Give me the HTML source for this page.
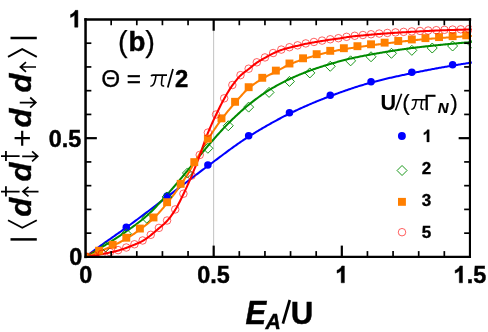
<!DOCTYPE html>
<html>
<head>
<meta charset="utf-8">
<title>chart</title>
<style>
html,body{margin:0;padding:0;background:#fff;}
body{width:488px;height:332px;overflow:hidden;font-family:"Liberation Sans",sans-serif;}
svg{display:block;will-change:transform;}
text{font-family:"Liberation Sans",sans-serif;fill:#000;}
.b{font-weight:bold;stroke:#000;stroke-width:0.45px;}
.n{font-weight:normal;stroke:none;}
.i{font-style:italic;}
.ser{font-family:"Liberation Serif",serif;font-style:italic;}
</style>
</head>
<body>
<svg width="488" height="332" viewBox="0 0 488 332">
<rect x="0" y="0" width="488" height="332" fill="#fff"/>
<defs><clipPath id="cp"><rect x="85.5" y="18" width="386.3" height="240"/></clipPath></defs>
<!-- gray vertical line -->
<line x1="213.6" y1="19.5" x2="213.6" y2="256.8" stroke="#c8c8c8" stroke-width="1.1"/>
<g clip-path="url(#cp)">
<path d="M85.50,256.80 L86.47,256.08 L87.44,255.37 L88.41,254.65 L89.38,253.93 L90.35,253.22 L91.32,252.51 L92.29,251.80 L93.26,251.09 L94.23,250.38 L95.20,249.67 L96.17,248.96 L97.14,248.25 L98.11,247.55 L99.08,246.85 L100.05,246.14 L101.02,245.44 L101.99,244.74 L102.96,244.04 L103.93,243.35 L104.90,242.65 L105.87,241.96 L106.84,241.27 L107.81,240.59 L108.78,239.90 L109.75,239.22 L110.72,238.54 L111.69,237.86 L112.66,237.18 L113.63,236.50 L114.60,235.82 L115.57,235.14 L116.54,234.46 L117.51,233.78 L118.48,233.09 L119.45,232.41 L120.42,231.72 L121.39,231.04 L122.36,230.34 L123.33,229.65 L124.30,228.95 L125.27,228.25 L126.24,227.55 L127.21,226.85 L128.18,226.14 L129.15,225.43 L130.12,224.72 L131.09,224.00 L132.06,223.29 L133.03,222.58 L134.00,221.86 L134.97,221.14 L135.94,220.42 L136.91,219.70 L137.88,218.98 L138.85,218.25 L139.82,217.53 L140.79,216.80 L141.76,216.08 L142.73,215.35 L143.70,214.62 L144.67,213.89 L145.64,213.16 L146.61,212.43 L147.58,211.70 L148.55,210.97 L149.52,210.24 L150.49,209.50 L151.46,208.77 L152.43,208.04 L153.40,207.30 L154.37,206.57 L155.34,205.84 L156.31,205.10 L157.28,204.37 L158.25,203.63 L159.22,202.90 L160.19,202.16 L161.16,201.43 L162.13,200.70 L163.10,199.96 L164.07,199.23 L165.04,198.50 L166.01,197.76 L166.98,197.03 L167.95,196.30 L168.92,195.57 L169.89,194.83 L170.86,194.09 L171.83,193.36 L172.80,192.62 L173.77,191.88 L174.74,191.14 L175.71,190.40 L176.68,189.66 L177.65,188.91 L178.62,188.17 L179.59,187.43 L180.56,186.68 L181.53,185.94 L182.50,185.20 L183.47,184.45 L184.44,183.71 L185.41,182.96 L186.38,182.22 L187.35,181.48 L188.32,180.73 L189.29,179.99 L190.26,179.25 L191.23,178.51 L192.20,177.76 L193.17,177.02 L194.14,176.28 L195.11,175.55 L196.08,174.81 L197.05,174.07 L198.02,173.34 L198.99,172.60 L199.95,171.87 L200.92,171.14 L201.89,170.41 L202.86,169.69 L203.83,168.96 L204.80,168.24 L205.77,167.51 L206.74,166.80 L207.71,166.08 L208.68,165.36 L209.65,164.64 L210.62,163.92 L211.59,163.20 L212.56,162.48 L213.53,161.75 L214.50,161.03 L215.47,160.30 L216.44,159.58 L217.41,158.85 L218.38,158.12 L219.35,157.40 L220.32,156.67 L221.29,155.95 L222.26,155.22 L223.23,154.50 L224.20,153.78 L225.17,153.06 L226.14,152.34 L227.11,151.63 L228.08,150.91 L229.05,150.20 L230.02,149.49 L230.99,148.79 L231.96,148.08 L232.93,147.38 L233.90,146.69 L234.87,146.00 L235.84,145.31 L236.81,144.62 L237.78,143.94 L238.75,143.27 L239.72,142.60 L240.69,141.93 L241.66,141.27 L242.63,140.62 L243.60,139.97 L244.57,139.32 L245.54,138.69 L246.51,138.05 L247.48,137.43 L248.45,136.81 L249.42,136.20 L250.39,135.59 L251.36,134.98 L252.33,134.38 L253.30,133.78 L254.27,133.18 L255.24,132.59 L256.21,131.99 L257.18,131.40 L258.15,130.82 L259.12,130.23 L260.09,129.65 L261.06,129.08 L262.03,128.50 L263.00,127.93 L263.97,127.36 L264.94,126.80 L265.91,126.24 L266.88,125.68 L267.85,125.12 L268.82,124.57 L269.79,124.02 L270.76,123.48 L271.73,122.94 L272.70,122.40 L273.67,121.86 L274.64,121.33 L275.61,120.80 L276.58,120.28 L277.55,119.76 L278.52,119.24 L279.49,118.73 L280.46,118.22 L281.43,117.71 L282.40,117.21 L283.37,116.71 L284.34,116.21 L285.31,115.72 L286.28,115.23 L287.25,114.75 L288.22,114.27 L289.19,113.79 L290.16,113.32 L291.13,112.85 L292.10,112.38 L293.07,111.91 L294.04,111.45 L295.01,110.99 L295.98,110.53 L296.95,110.08 L297.92,109.63 L298.89,109.18 L299.86,108.74 L300.83,108.29 L301.80,107.85 L302.77,107.41 L303.74,106.98 L304.71,106.55 L305.68,106.12 L306.65,105.69 L307.62,105.27 L308.59,104.84 L309.56,104.42 L310.53,104.01 L311.50,103.59 L312.47,103.18 L313.44,102.77 L314.41,102.37 L315.38,101.96 L316.35,101.56 L317.32,101.17 L318.29,100.77 L319.26,100.38 L320.23,99.99 L321.20,99.60 L322.17,99.21 L323.14,98.83 L324.11,98.45 L325.08,98.07 L326.05,97.70 L327.02,97.32 L327.99,96.95 L328.96,96.58 L329.93,96.22 L330.90,95.86 L331.87,95.49 L332.84,95.13 L333.81,94.77 L334.78,94.42 L335.75,94.06 L336.72,93.70 L337.69,93.35 L338.66,93.00 L339.63,92.65 L340.60,92.30 L341.57,91.95 L342.54,91.61 L343.51,91.27 L344.48,90.93 L345.45,90.59 L346.42,90.25 L347.39,89.92 L348.36,89.58 L349.33,89.25 L350.30,88.93 L351.27,88.60 L352.24,88.28 L353.21,87.96 L354.18,87.64 L355.15,87.32 L356.12,87.01 L357.09,86.70 L358.06,86.39 L359.03,86.09 L360.00,85.79 L360.97,85.49 L361.94,85.19 L362.91,84.90 L363.88,84.61 L364.85,84.32 L365.82,84.04 L366.79,83.76 L367.76,83.48 L368.73,83.21 L369.70,82.94 L370.67,82.67 L371.64,82.41 L372.61,82.15 L373.58,81.89 L374.55,81.64 L375.52,81.39 L376.49,81.14 L377.46,80.89 L378.43,80.64 L379.40,80.40 L380.37,80.16 L381.34,79.92 L382.31,79.68 L383.28,79.45 L384.25,79.22 L385.22,78.99 L386.19,78.76 L387.16,78.53 L388.13,78.31 L389.10,78.08 L390.07,77.86 L391.04,77.64 L392.01,77.42 L392.98,77.21 L393.95,76.99 L394.92,76.78 L395.89,76.56 L396.86,76.35 L397.83,76.14 L398.80,75.93 L399.77,75.72 L400.74,75.52 L401.71,75.31 L402.68,75.10 L403.65,74.90 L404.62,74.70 L405.59,74.49 L406.56,74.29 L407.53,74.09 L408.50,73.89 L409.47,73.69 L410.44,73.49 L411.41,73.29 L412.38,73.09 L413.35,72.89 L414.32,72.69 L415.29,72.49 L416.26,72.30 L417.23,72.10 L418.20,71.91 L419.17,71.71 L420.14,71.52 L421.11,71.33 L422.08,71.14 L423.05,70.95 L424.02,70.76 L424.99,70.57 L425.96,70.38 L426.93,70.20 L427.89,70.01 L428.86,69.83 L429.83,69.64 L430.80,69.46 L431.77,69.28 L432.74,69.10 L433.71,68.92 L434.68,68.74 L435.65,68.56 L436.62,68.38 L437.59,68.21 L438.56,68.03 L439.53,67.86 L440.50,67.69 L441.47,67.51 L442.44,67.34 L443.41,67.17 L444.38,67.00 L445.35,66.83 L446.32,66.67 L447.29,66.50 L448.26,66.34 L449.23,66.17 L450.20,66.01 L451.17,65.85 L452.14,65.68 L453.11,65.52 L454.08,65.37 L455.05,65.21 L456.02,65.05 L456.99,64.89 L457.96,64.73 L458.93,64.58 L459.90,64.42 L460.87,64.27 L461.84,64.11 L462.81,63.96 L463.78,63.81 L464.75,63.66 L465.72,63.51 L466.69,63.36 L467.66,63.21 L468.63,63.06 L469.60,62.91 L470.57,62.76 L471.54,62.62 L472.51,62.47" fill="none" stroke="#0000ff" stroke-width="2.05" stroke-linejoin="round"/>
<path d="M85.50,256.80 L86.47,256.25 L87.44,255.69 L88.41,255.13 L89.38,254.57 L90.35,254.01 L91.32,253.44 L92.29,252.87 L93.26,252.30 L94.23,251.73 L95.20,251.16 L96.17,250.58 L97.14,250.00 L98.11,249.41 L99.08,248.83 L100.05,248.24 L101.02,247.65 L101.99,247.06 L102.96,246.46 L103.93,245.87 L104.90,245.27 L105.87,244.67 L106.84,244.06 L107.81,243.46 L108.78,242.86 L109.75,242.25 L110.72,241.64 L111.69,241.03 L112.66,240.42 L113.63,239.81 L114.60,239.19 L115.57,238.57 L116.54,237.95 L117.51,237.32 L118.48,236.69 L119.45,236.05 L120.42,235.41 L121.39,234.76 L122.36,234.11 L123.33,233.46 L124.30,232.79 L125.27,232.12 L126.24,231.45 L127.21,230.77 L128.18,230.08 L129.15,229.40 L130.12,228.72 L131.09,228.03 L132.06,227.33 L133.03,226.64 L134.00,225.93 L134.97,225.22 L135.94,224.50 L136.91,223.78 L137.88,223.05 L138.85,222.30 L139.82,221.55 L140.79,220.79 L141.76,220.01 L142.73,219.22 L143.70,218.42 L144.67,217.61 L145.64,216.78 L146.61,215.94 L147.58,215.07 L148.55,214.19 L149.52,213.28 L150.49,212.35 L151.46,211.40 L152.43,210.44 L153.40,209.46 L154.37,208.46 L155.34,207.45 L156.31,206.43 L157.28,205.40 L158.25,204.36 L159.22,203.31 L160.19,202.25 L161.16,201.18 L162.13,200.11 L163.10,199.04 L164.07,197.97 L165.04,196.89 L166.01,195.82 L166.98,194.74 L167.95,193.67 L168.92,192.58 L169.89,191.49 L170.86,190.38 L171.83,189.27 L172.80,188.14 L173.77,187.01 L174.74,185.88 L175.71,184.73 L176.68,183.59 L177.65,182.43 L178.62,181.28 L179.59,180.12 L180.56,178.96 L181.53,177.79 L182.50,176.63 L183.47,175.47 L184.44,174.30 L185.41,173.14 L186.38,171.98 L187.35,170.82 L188.32,169.66 L189.29,168.49 L190.26,167.32 L191.23,166.14 L192.20,164.96 L193.17,163.77 L194.14,162.58 L195.11,161.39 L196.08,160.19 L197.05,159.00 L198.02,157.81 L198.99,156.62 L199.95,155.43 L200.92,154.25 L201.89,153.07 L202.86,151.90 L203.83,150.74 L204.80,149.58 L205.77,148.43 L206.74,147.29 L207.71,146.17 L208.68,145.04 L209.65,143.92 L210.62,142.80 L211.59,141.69 L212.56,140.57 L213.53,139.46 L214.50,138.35 L215.47,137.24 L216.44,136.14 L217.41,135.05 L218.38,133.96 L219.35,132.89 L220.32,131.81 L221.29,130.75 L222.26,129.70 L223.23,128.66 L224.20,127.63 L225.17,126.61 L226.14,125.60 L227.11,124.60 L228.08,123.62 L229.05,122.66 L230.02,121.69 L230.99,120.74 L231.96,119.79 L232.93,118.85 L233.90,117.91 L234.87,116.99 L235.84,116.07 L236.81,115.16 L237.78,114.26 L238.75,113.37 L239.72,112.48 L240.69,111.61 L241.66,110.74 L242.63,109.89 L243.60,109.04 L244.57,108.21 L245.54,107.39 L246.51,106.57 L247.48,105.77 L248.45,104.98 L249.42,104.20 L250.39,103.43 L251.36,102.66 L252.33,101.90 L253.30,101.14 L254.27,100.40 L255.24,99.66 L256.21,98.93 L257.18,98.20 L258.15,97.49 L259.12,96.78 L260.09,96.08 L261.06,95.39 L262.03,94.71 L263.00,94.05 L263.97,93.39 L264.94,92.74 L265.91,92.10 L266.88,91.47 L267.85,90.85 L268.82,90.24 L269.79,89.65 L270.76,89.06 L271.73,88.48 L272.70,87.91 L273.67,87.35 L274.64,86.79 L275.61,86.24 L276.58,85.70 L277.55,85.17 L278.52,84.64 L279.49,84.12 L280.46,83.61 L281.43,83.10 L282.40,82.60 L283.37,82.10 L284.34,81.61 L285.31,81.13 L286.28,80.66 L287.25,80.18 L288.22,79.72 L289.19,79.26 L290.16,78.80 L291.13,78.35 L292.10,77.91 L293.07,77.47 L294.04,77.03 L295.01,76.60 L295.98,76.18 L296.95,75.76 L297.92,75.34 L298.89,74.93 L299.86,74.52 L300.83,74.12 L301.80,73.72 L302.77,73.33 L303.74,72.94 L304.71,72.56 L305.68,72.18 L306.65,71.81 L307.62,71.44 L308.59,71.08 L309.56,70.72 L310.53,70.37 L311.50,70.02 L312.47,69.67 L313.44,69.33 L314.41,69.00 L315.38,68.67 L316.35,68.34 L317.32,68.01 L318.29,67.69 L319.26,67.38 L320.23,67.06 L321.20,66.75 L322.17,66.45 L323.14,66.14 L324.11,65.84 L325.08,65.54 L326.05,65.25 L327.02,64.95 L327.99,64.66 L328.96,64.37 L329.93,64.09 L330.90,63.80 L331.87,63.52 L332.84,63.24 L333.81,62.96 L334.78,62.68 L335.75,62.40 L336.72,62.13 L337.69,61.86 L338.66,61.59 L339.63,61.32 L340.60,61.06 L341.57,60.80 L342.54,60.54 L343.51,60.29 L344.48,60.04 L345.45,59.79 L346.42,59.55 L347.39,59.31 L348.36,59.07 L349.33,58.84 L350.30,58.62 L351.27,58.39 L352.24,58.18 L353.21,57.96 L354.18,57.75 L355.15,57.54 L356.12,57.34 L357.09,57.14 L358.06,56.94 L359.03,56.74 L360.00,56.55 L360.97,56.35 L361.94,56.16 L362.91,55.98 L363.88,55.79 L364.85,55.60 L365.82,55.42 L366.79,55.24 L367.76,55.06 L368.73,54.88 L369.70,54.70 L370.67,54.52 L371.64,54.35 L372.61,54.17 L373.58,53.99 L374.55,53.82 L375.52,53.65 L376.49,53.48 L377.46,53.31 L378.43,53.14 L379.40,52.98 L380.37,52.81 L381.34,52.65 L382.31,52.49 L383.28,52.33 L384.25,52.16 L385.22,52.01 L386.19,51.85 L387.16,51.69 L388.13,51.54 L389.10,51.38 L390.07,51.23 L391.04,51.08 L392.01,50.92 L392.98,50.77 L393.95,50.62 L394.92,50.47 L395.89,50.32 L396.86,50.17 L397.83,50.03 L398.80,49.88 L399.77,49.74 L400.74,49.59 L401.71,49.45 L402.68,49.31 L403.65,49.16 L404.62,49.03 L405.59,48.89 L406.56,48.75 L407.53,48.62 L408.50,48.49 L409.47,48.36 L410.44,48.23 L411.41,48.10 L412.38,47.98 L413.35,47.86 L414.32,47.74 L415.29,47.62 L416.26,47.50 L417.23,47.38 L418.20,47.27 L419.17,47.16 L420.14,47.04 L421.11,46.93 L422.08,46.82 L423.05,46.71 L424.02,46.61 L424.99,46.50 L425.96,46.39 L426.93,46.29 L427.89,46.18 L428.86,46.08 L429.83,45.98 L430.80,45.87 L431.77,45.77 L432.74,45.67 L433.71,45.56 L434.68,45.46 L435.65,45.36 L436.62,45.26 L437.59,45.16 L438.56,45.06 L439.53,44.97 L440.50,44.87 L441.47,44.77 L442.44,44.67 L443.41,44.58 L444.38,44.48 L445.35,44.39 L446.32,44.30 L447.29,44.20 L448.26,44.11 L449.23,44.02 L450.20,43.93 L451.17,43.84 L452.14,43.75 L453.11,43.66 L454.08,43.57 L455.05,43.48 L456.02,43.40 L456.99,43.31 L457.96,43.22 L458.93,43.14 L459.90,43.06 L460.87,42.97 L461.84,42.89 L462.81,42.80 L463.78,42.72 L464.75,42.64 L465.72,42.56 L466.69,42.48 L467.66,42.40 L468.63,42.32 L469.60,42.24 L470.57,42.17 L471.54,42.09 L472.51,42.01" fill="none" stroke="#008b00" stroke-width="2.05" stroke-linejoin="round"/>
<path d="M85.50,257.80 L86.47,257.36 L87.44,256.92 L88.41,256.48 L89.38,256.04 L90.35,255.60 L91.32,255.17 L92.29,254.73 L93.26,254.30 L94.23,253.86 L95.20,253.43 L96.17,253.00 L97.14,252.57 L98.11,252.14 L99.08,251.71 L100.05,251.28 L101.02,250.87 L101.99,250.45 L102.96,250.04 L103.93,249.63 L104.90,249.22 L105.87,248.81 L106.84,248.40 L107.81,247.99 L108.78,247.57 L109.75,247.14 L110.72,246.71 L111.69,246.26 L112.66,245.81 L113.63,245.35 L114.60,244.88 L115.57,244.41 L116.54,243.94 L117.51,243.46 L118.48,242.97 L119.45,242.47 L120.42,241.97 L121.39,241.46 L122.36,240.94 L123.33,240.41 L124.30,239.87 L125.27,239.32 L126.24,238.75 L127.21,238.18 L128.18,237.59 L129.15,236.98 L130.12,236.36 L131.09,235.73 L132.06,235.09 L133.03,234.44 L134.00,233.78 L134.97,233.10 L135.94,232.42 L136.91,231.73 L137.88,231.03 L138.85,230.33 L139.82,229.61 L140.79,228.90 L141.76,228.17 L142.73,227.44 L143.70,226.70 L144.67,225.96 L145.64,225.20 L146.61,224.42 L147.58,223.64 L148.55,222.84 L149.52,222.02 L150.49,221.18 L151.46,220.32 L152.43,219.44 L153.40,218.54 L154.37,217.61 L155.34,216.65 L156.31,215.65 L157.28,214.63 L158.25,213.59 L159.22,212.52 L160.19,211.43 L161.16,210.31 L162.13,209.18 L163.10,208.04 L164.07,206.88 L165.04,205.71 L166.01,204.54 L166.98,203.35 L167.95,202.16 L168.92,200.94 L169.89,199.71 L170.86,198.46 L171.83,197.19 L172.80,195.90 L173.77,194.60 L174.74,193.28 L175.71,191.95 L176.68,190.59 L177.65,189.23 L178.62,187.84 L179.59,186.45 L180.56,185.04 L181.53,183.60 L182.50,182.15 L183.47,180.67 L184.44,179.16 L185.41,177.64 L186.38,176.09 L187.35,174.53 L188.32,172.96 L189.29,171.38 L190.26,169.78 L191.23,168.18 L192.20,166.57 L193.17,164.96 L194.14,163.35 L195.11,161.73 L196.08,160.08 L197.05,158.40 L198.02,156.70 L198.99,154.98 L199.95,153.26 L200.92,151.54 L201.89,149.82 L202.86,148.10 L203.83,146.41 L204.80,144.73 L205.77,143.08 L206.74,141.46 L207.71,139.88 L208.68,138.33 L209.65,136.79 L210.62,135.27 L211.59,133.75 L212.56,132.25 L213.53,130.77 L214.50,129.30 L215.47,127.85 L216.44,126.42 L217.41,125.01 L218.38,123.62 L219.35,122.26 L220.32,120.92 L221.29,119.60 L222.26,118.30 L223.23,117.03 L224.20,115.78 L225.17,114.55 L226.14,113.34 L227.11,112.14 L228.08,110.96 L229.05,109.80 L230.02,108.64 L230.99,107.50 L231.96,106.37 L232.93,105.24 L233.90,104.13 L234.87,103.02 L235.84,101.91 L236.81,100.79 L237.78,99.66 L238.75,98.54 L239.72,97.42 L240.69,96.31 L241.66,95.22 L242.63,94.14 L243.60,93.09 L244.57,92.07 L245.54,91.08 L246.51,90.14 L247.48,89.24 L248.45,88.38 L249.42,87.57 L250.39,86.79 L251.36,86.04 L252.33,85.31 L253.30,84.60 L254.27,83.91 L255.24,83.24 L256.21,82.59 L257.18,81.95 L258.15,81.33 L259.12,80.72 L260.09,80.12 L261.06,79.53 L262.03,78.94 L263.00,78.37 L263.97,77.81 L264.94,77.27 L265.91,76.74 L266.88,76.22 L267.85,75.71 L268.82,75.21 L269.79,74.71 L270.76,74.22 L271.73,73.73 L272.70,73.24 L273.67,72.75 L274.64,72.25 L275.61,71.74 L276.58,71.23 L277.55,70.71 L278.52,70.18 L279.49,69.65 L280.46,69.12 L281.43,68.58 L282.40,68.05 L283.37,67.53 L284.34,67.01 L285.31,66.50 L286.28,66.00 L287.25,65.52 L288.22,65.06 L289.19,64.61 L290.16,64.19 L291.13,63.77 L292.10,63.36 L293.07,62.97 L294.04,62.58 L295.01,62.20 L295.98,61.82 L296.95,61.46 L297.92,61.10 L298.89,60.75 L299.86,60.40 L300.83,60.06 L301.80,59.73 L302.77,59.39 L303.74,59.07 L304.71,58.75 L305.68,58.43 L306.65,58.12 L307.62,57.82 L308.59,57.52 L309.56,57.22 L310.53,56.93 L311.50,56.65 L312.47,56.36 L313.44,56.09 L314.41,55.81 L315.38,55.54 L316.35,55.28 L317.32,55.01 L318.29,54.75 L319.26,54.49 L320.23,54.24 L321.20,53.99 L322.17,53.74 L323.14,53.49 L324.11,53.25 L325.08,53.01 L326.05,52.78 L327.02,52.55 L327.99,52.33 L328.96,52.11 L329.93,51.89 L330.90,51.68 L331.87,51.48 L332.84,51.28 L333.81,51.08 L334.78,50.88 L335.75,50.69 L336.72,50.50 L337.69,50.31 L338.66,50.13 L339.63,49.95 L340.60,49.78 L341.57,49.60 L342.54,49.44 L343.51,49.27 L344.48,49.11 L345.45,48.95 L346.42,48.80 L347.39,48.65 L348.36,48.50 L349.33,48.36 L350.30,48.21 L351.27,48.07 L352.24,47.94 L353.21,47.80 L354.18,47.66 L355.15,47.52 L356.12,47.39 L357.09,47.25 L358.06,47.11 L359.03,46.97 L360.00,46.83 L360.97,46.69 L361.94,46.55 L362.91,46.41 L363.88,46.28 L364.85,46.14 L365.82,46.00 L366.79,45.87 L367.76,45.74 L368.73,45.60 L369.70,45.47 L370.67,45.35 L371.64,45.22 L372.61,45.10 L373.58,44.97 L374.55,44.85 L375.52,44.73 L376.49,44.62 L377.46,44.50 L378.43,44.38 L379.40,44.27 L380.37,44.15 L381.34,44.03 L382.31,43.92 L383.28,43.80 L384.25,43.68 L385.22,43.57 L386.19,43.45 L387.16,43.33 L388.13,43.21 L389.10,43.09 L390.07,42.97 L391.04,42.85 L392.01,42.73 L392.98,42.61 L393.95,42.49 L394.92,42.37 L395.89,42.26 L396.86,42.14 L397.83,42.02 L398.80,41.91 L399.77,41.80 L400.74,41.68 L401.71,41.57 L402.68,41.45 L403.65,41.34 L404.62,41.23 L405.59,41.12 L406.56,41.01 L407.53,40.90 L408.50,40.79 L409.47,40.68 L410.44,40.58 L411.41,40.48 L412.38,40.38 L413.35,40.28 L414.32,40.18 L415.29,40.08 L416.26,39.98 L417.23,39.88 L418.20,39.79 L419.17,39.70 L420.14,39.60 L421.11,39.51 L422.08,39.42 L423.05,39.34 L424.02,39.25 L424.99,39.17 L425.96,39.08 L426.93,39.00 L427.89,38.93 L428.86,38.85 L429.83,38.78 L430.80,38.70 L431.77,38.63 L432.74,38.56 L433.71,38.49 L434.68,38.42 L435.65,38.35 L436.62,38.28 L437.59,38.21 L438.56,38.14 L439.53,38.07 L440.50,38.00 L441.47,37.93 L442.44,37.87 L443.41,37.80 L444.38,37.73 L445.35,37.67 L446.32,37.60 L447.29,37.54 L448.26,37.47 L449.23,37.41 L450.20,37.34 L451.17,37.28 L452.14,37.21 L453.11,37.15 L454.08,37.09 L455.05,37.02 L456.02,36.96 L456.99,36.89 L457.96,36.83 L458.93,36.77 L459.90,36.70 L460.87,36.64 L461.84,36.58 L462.81,36.52 L463.78,36.47 L464.75,36.41 L465.72,36.35 L466.69,36.30 L467.66,36.25 L468.63,36.20 L469.60,36.15 L470.57,36.10 L471.54,36.05 L472.51,36.01" fill="none" stroke="#ff7f00" stroke-width="2.05" stroke-linejoin="round"/>
<path d="M85.50,256.80 L86.47,256.68 L87.44,256.55 L88.41,256.42 L89.38,256.29 L90.35,256.15 L91.32,256.00 L92.29,255.85 L93.26,255.70 L94.23,255.54 L95.20,255.38 L96.17,255.21 L97.14,255.04 L98.11,254.87 L99.08,254.69 L100.05,254.51 L101.02,254.33 L101.99,254.14 L102.96,253.96 L103.93,253.76 L104.90,253.57 L105.87,253.37 L106.84,253.17 L107.81,252.97 L108.78,252.77 L109.75,252.57 L110.72,252.35 L111.69,252.13 L112.66,251.91 L113.63,251.68 L114.60,251.44 L115.57,251.19 L116.54,250.94 L117.51,250.68 L118.48,250.41 L119.45,250.14 L120.42,249.85 L121.39,249.56 L122.36,249.26 L123.33,248.94 L124.30,248.61 L125.27,248.27 L126.24,247.92 L127.21,247.56 L128.18,247.20 L129.15,246.82 L130.12,246.44 L131.09,246.05 L132.06,245.65 L133.03,245.26 L134.00,244.85 L134.97,244.45 L135.94,244.05 L136.91,243.63 L137.88,243.21 L138.85,242.77 L139.82,242.31 L140.79,241.84 L141.76,241.34 L142.73,240.82 L143.70,240.26 L144.67,239.67 L145.64,239.04 L146.61,238.38 L147.58,237.68 L148.55,236.96 L149.52,236.21 L150.49,235.44 L151.46,234.65 L152.43,233.84 L153.40,233.03 L154.37,232.20 L155.34,231.37 L156.31,230.54 L157.28,229.70 L158.25,228.88 L159.22,228.05 L160.19,227.24 L161.16,226.43 L162.13,225.61 L163.10,224.76 L164.07,223.89 L165.04,222.98 L166.01,222.03 L166.98,221.01 L167.95,219.93 L168.92,218.78 L169.89,217.56 L170.86,216.28 L171.83,214.95 L172.80,213.55 L173.77,212.11 L174.74,210.61 L175.71,209.06 L176.68,207.41 L177.65,205.66 L178.62,203.83 L179.59,201.94 L180.56,199.99 L181.53,198.02 L182.50,196.02 L183.47,194.02 L184.44,191.99 L185.41,189.93 L186.38,187.83 L187.35,185.69 L188.32,183.51 L189.29,181.30 L190.26,179.06 L191.23,176.78 L192.20,174.48 L193.17,172.13 L194.14,169.73 L195.11,167.29 L196.08,164.83 L197.05,162.33 L198.02,159.81 L198.99,157.27 L199.95,154.72 L200.92,152.09 L201.89,149.39 L202.86,146.64 L203.83,143.88 L204.80,141.15 L205.77,138.46 L206.74,135.87 L207.71,133.39 L208.68,131.04 L209.65,128.76 L210.62,126.54 L211.59,124.37 L212.56,122.25 L213.53,120.17 L214.50,118.11 L215.47,116.06 L216.44,114.03 L217.41,112.01 L218.38,110.00 L219.35,108.02 L220.32,106.07 L221.29,104.15 L222.26,102.28 L223.23,100.45 L224.20,98.69 L225.17,96.96 L226.14,95.26 L227.11,93.59 L228.08,91.95 L229.05,90.36 L230.02,88.83 L230.99,87.35 L231.96,85.94 L232.93,84.59 L233.90,83.28 L234.87,82.00 L235.84,80.76 L236.81,79.57 L237.78,78.43 L238.75,77.34 L239.72,76.32 L240.69,75.37 L241.66,74.50 L242.63,73.68 L243.60,72.90 L244.57,72.16 L245.54,71.44 L246.51,70.73 L247.48,70.00 L248.45,69.26 L249.42,68.49 L250.39,67.71 L251.36,66.91 L252.33,66.12 L253.30,65.33 L254.27,64.56 L255.24,63.82 L256.21,63.11 L257.18,62.45 L258.15,61.81 L259.12,61.21 L260.09,60.62 L261.06,60.05 L262.03,59.49 L263.00,58.94 L263.97,58.39 L264.94,57.85 L265.91,57.30 L266.88,56.75 L267.85,56.20 L268.82,55.67 L269.79,55.14 L270.76,54.62 L271.73,54.12 L272.70,53.64 L273.67,53.18 L274.64,52.73 L275.61,52.29 L276.58,51.86 L277.55,51.44 L278.52,51.04 L279.49,50.65 L280.46,50.29 L281.43,49.95 L282.40,49.62 L283.37,49.32 L284.34,49.02 L285.31,48.74 L286.28,48.47 L287.25,48.20 L288.22,47.94 L289.19,47.69 L290.16,47.44 L291.13,47.20 L292.10,46.97 L293.07,46.75 L294.04,46.53 L295.01,46.31 L295.98,46.10 L296.95,45.88 L297.92,45.65 L298.89,45.42 L299.86,45.19 L300.83,44.95 L301.80,44.72 L302.77,44.49 L303.74,44.26 L304.71,44.05 L305.68,43.84 L306.65,43.65 L307.62,43.46 L308.59,43.28 L309.56,43.11 L310.53,42.94 L311.50,42.77 L312.47,42.60 L313.44,42.44 L314.41,42.27 L315.38,42.10 L316.35,41.94 L317.32,41.77 L318.29,41.61 L319.26,41.44 L320.23,41.28 L321.20,41.12 L322.17,40.96 L323.14,40.80 L324.11,40.64 L325.08,40.48 L326.05,40.32 L327.02,40.16 L327.99,40.01 L328.96,39.86 L329.93,39.72 L330.90,39.58 L331.87,39.45 L332.84,39.32 L333.81,39.20 L334.78,39.08 L335.75,38.96 L336.72,38.83 L337.69,38.70 L338.66,38.57 L339.63,38.42 L340.60,38.26 L341.57,38.09 L342.54,37.92 L343.51,37.75 L344.48,37.58 L345.45,37.41 L346.42,37.24 L347.39,37.08 L348.36,36.93 L349.33,36.79 L350.30,36.67 L351.27,36.55 L352.24,36.44 L353.21,36.33 L354.18,36.23 L355.15,36.13 L356.12,36.03 L357.09,35.94 L358.06,35.84 L359.03,35.75 L360.00,35.66 L360.97,35.58 L361.94,35.49 L362.91,35.40 L363.88,35.31 L364.85,35.22 L365.82,35.13 L366.79,35.04 L367.76,34.95 L368.73,34.87 L369.70,34.78 L370.67,34.69 L371.64,34.61 L372.61,34.52 L373.58,34.44 L374.55,34.35 L375.52,34.27 L376.49,34.19 L377.46,34.11 L378.43,34.03 L379.40,33.95 L380.37,33.87 L381.34,33.80 L382.31,33.72 L383.28,33.65 L384.25,33.57 L385.22,33.50 L386.19,33.43 L387.16,33.36 L388.13,33.29 L389.10,33.22 L390.07,33.15 L391.04,33.08 L392.01,33.01 L392.98,32.95 L393.95,32.88 L394.92,32.82 L395.89,32.76 L396.86,32.69 L397.83,32.63 L398.80,32.57 L399.77,32.51 L400.74,32.45 L401.71,32.39 L402.68,32.33 L403.65,32.28 L404.62,32.22 L405.59,32.16 L406.56,32.11 L407.53,32.05 L408.50,32.00 L409.47,31.94 L410.44,31.88 L411.41,31.83 L412.38,31.78 L413.35,31.72 L414.32,31.67 L415.29,31.61 L416.26,31.56 L417.23,31.51 L418.20,31.46 L419.17,31.41 L420.14,31.35 L421.11,31.30 L422.08,31.25 L423.05,31.20 L424.02,31.15 L424.99,31.10 L425.96,31.06 L426.93,31.01 L427.89,30.96 L428.86,30.91 L429.83,30.86 L430.80,30.81 L431.77,30.76 L432.74,30.71 L433.71,30.67 L434.68,30.62 L435.65,30.58 L436.62,30.53 L437.59,30.49 L438.56,30.45 L439.53,30.41 L440.50,30.37 L441.47,30.33 L442.44,30.30 L443.41,30.26 L444.38,30.23 L445.35,30.20 L446.32,30.16 L447.29,30.13 L448.26,30.10 L449.23,30.07 L450.20,30.04 L451.17,30.01 L452.14,29.98 L453.11,29.95 L454.08,29.92 L455.05,29.89 L456.02,29.86 L456.99,29.83 L457.96,29.81 L458.93,29.78 L459.90,29.75 L460.87,29.72 L461.84,29.69 L462.81,29.67 L463.78,29.64 L464.75,29.61 L465.72,29.59 L466.69,29.56 L467.66,29.54 L468.63,29.51 L469.60,29.49 L470.57,29.46 L471.54,29.44 L472.51,29.41" fill="none" stroke="#ff0000" stroke-width="2.05" stroke-linejoin="round"/>
<circle cx="126.29" cy="227.21" r="3.75" fill="#0000ff"/>
<circle cx="167.08" cy="196.05" r="3.75" fill="#0000ff"/>
<circle cx="207.87" cy="165.06" r="3.75" fill="#0000ff"/>
<circle cx="248.67" cy="135.78" r="3.75" fill="#0000ff"/>
<circle cx="289.46" cy="112.76" r="3.75" fill="#0000ff"/>
<circle cx="330.25" cy="95.20" r="3.75" fill="#0000ff"/>
<circle cx="371.04" cy="81.67" r="3.75" fill="#0000ff"/>
<circle cx="411.83" cy="72.30" r="3.75" fill="#0000ff"/>
<circle cx="452.62" cy="64.71" r="3.75" fill="#0000ff"/>
<path d="M100.90,246.95 L105.90,241.95 L110.90,246.95 L105.90,251.95 Z" fill="none" stroke="#008b00" stroke-width="0.9"/>
<path d="M121.29,233.71 L126.29,228.71 L131.29,233.71 L126.29,238.71 Z" fill="none" stroke="#008b00" stroke-width="0.9"/>
<path d="M141.69,218.17 L146.69,213.17 L151.69,218.17 L146.69,223.17 Z" fill="none" stroke="#008b00" stroke-width="0.9"/>
<path d="M162.08,196.93 L167.08,191.93 L172.08,196.93 L167.08,201.93 Z" fill="none" stroke="#008b00" stroke-width="0.9"/>
<path d="M182.48,172.96 L187.48,167.96 L192.48,172.96 L187.48,177.96 Z" fill="none" stroke="#008b00" stroke-width="0.9"/>
<path d="M202.87,148.28 L207.87,143.28 L212.87,148.28 L207.87,153.28 Z" fill="none" stroke="#008b00" stroke-width="0.9"/>
<path d="M223.27,125.74 L228.27,120.74 L233.27,125.74 L228.27,130.74 Z" fill="none" stroke="#008b00" stroke-width="0.9"/>
<path d="M243.67,107.11 L248.67,102.11 L253.67,107.11 L248.67,112.11 Z" fill="none" stroke="#008b00" stroke-width="0.9"/>
<path d="M264.06,92.40 L269.06,87.40 L274.06,92.40 L269.06,97.40 Z" fill="none" stroke="#008b00" stroke-width="0.9"/>
<path d="M284.46,81.43 L289.46,76.43 L294.46,81.43 L289.46,86.43 Z" fill="none" stroke="#008b00" stroke-width="0.9"/>
<path d="M304.85,72.91 L309.85,67.91 L314.85,72.91 L309.85,77.91 Z" fill="none" stroke="#008b00" stroke-width="0.9"/>
<path d="M325.25,66.29 L330.25,61.29 L335.25,66.29 L330.25,71.29 Z" fill="none" stroke="#008b00" stroke-width="0.9"/>
<path d="M345.64,60.84 L350.64,55.84 L355.64,60.84 L350.64,65.84 Z" fill="none" stroke="#008b00" stroke-width="0.9"/>
<path d="M366.04,56.75 L371.04,51.75 L376.04,56.75 L371.04,61.75 Z" fill="none" stroke="#008b00" stroke-width="0.9"/>
<path d="M386.44,53.31 L391.44,48.31 L396.44,53.31 L391.44,58.31 Z" fill="none" stroke="#008b00" stroke-width="0.9"/>
<path d="M406.83,50.35 L411.83,45.35 L416.83,50.35 L411.83,55.35 Z" fill="none" stroke="#008b00" stroke-width="0.9"/>
<path d="M427.23,48.02 L432.23,43.02 L437.23,48.02 L432.23,53.02 Z" fill="none" stroke="#008b00" stroke-width="0.9"/>
<path d="M447.62,46.00 L452.62,41.00 L457.62,46.00 L452.62,51.00 Z" fill="none" stroke="#008b00" stroke-width="0.9"/>
<path d="M468.02,44.27 L473.02,39.27 L478.02,44.27 L473.02,49.27 Z" fill="none" stroke="#008b00" stroke-width="0.9"/>
<rect x="81.55" y="252.85" width="7.90" height="7.90" fill="#ff7f00"/>
<rect x="95.15" y="246.75" width="7.90" height="7.90" fill="#ff7f00"/>
<rect x="108.74" y="240.84" width="7.90" height="7.90" fill="#ff7f00"/>
<rect x="122.34" y="233.77" width="7.90" height="7.90" fill="#ff7f00"/>
<rect x="135.94" y="224.61" width="7.90" height="7.90" fill="#ff7f00"/>
<rect x="149.54" y="213.51" width="7.90" height="7.90" fill="#ff7f00"/>
<rect x="163.13" y="198.27" width="7.90" height="7.90" fill="#ff7f00"/>
<rect x="176.73" y="179.90" width="7.90" height="7.90" fill="#ff7f00"/>
<rect x="190.33" y="158.17" width="7.90" height="7.90" fill="#ff7f00"/>
<rect x="203.92" y="134.67" width="7.90" height="7.90" fill="#ff7f00"/>
<rect x="217.52" y="114.41" width="7.90" height="7.90" fill="#ff7f00"/>
<rect x="231.12" y="97.85" width="7.90" height="7.90" fill="#ff7f00"/>
<rect x="244.72" y="83.25" width="7.90" height="7.90" fill="#ff7f00"/>
<rect x="258.31" y="73.85" width="7.90" height="7.90" fill="#ff7f00"/>
<rect x="271.91" y="66.66" width="7.90" height="7.90" fill="#ff7f00"/>
<rect x="285.51" y="59.55" width="7.90" height="7.90" fill="#ff7f00"/>
<rect x="299.10" y="54.35" width="7.90" height="7.90" fill="#ff7f00"/>
<rect x="312.70" y="50.24" width="7.90" height="7.90" fill="#ff7f00"/>
<rect x="326.30" y="46.87" width="7.90" height="7.90" fill="#ff7f00"/>
<rect x="339.90" y="44.26" width="7.90" height="7.90" fill="#ff7f00"/>
<rect x="353.49" y="42.25" width="7.90" height="7.90" fill="#ff7f00"/>
<rect x="367.09" y="40.35" width="7.90" height="7.90" fill="#ff7f00"/>
<rect x="380.69" y="38.69" width="7.90" height="7.90" fill="#ff7f00"/>
<rect x="394.28" y="37.03" width="7.90" height="7.90" fill="#ff7f00"/>
<rect x="407.88" y="35.48" width="7.90" height="7.90" fill="#ff7f00"/>
<rect x="421.48" y="34.18" width="7.90" height="7.90" fill="#ff7f00"/>
<rect x="435.08" y="33.16" width="7.90" height="7.90" fill="#ff7f00"/>
<rect x="448.67" y="32.23" width="7.90" height="7.90" fill="#ff7f00"/>
<rect x="462.27" y="31.38" width="7.90" height="7.90" fill="#ff7f00"/>
<circle cx="85.50" cy="256.40" r="3.75" fill="none" stroke="#ff0000" stroke-width="0.62"/>
<circle cx="93.66" cy="255.24" r="3.75" fill="none" stroke="#ff0000" stroke-width="0.62"/>
<circle cx="101.82" cy="253.78" r="3.75" fill="none" stroke="#ff0000" stroke-width="0.62"/>
<circle cx="109.97" cy="252.12" r="3.75" fill="none" stroke="#ff0000" stroke-width="0.62"/>
<circle cx="118.13" cy="250.11" r="3.75" fill="none" stroke="#ff0000" stroke-width="0.62"/>
<circle cx="126.29" cy="247.50" r="3.75" fill="none" stroke="#ff0000" stroke-width="0.62"/>
<circle cx="134.45" cy="244.27" r="3.75" fill="none" stroke="#ff0000" stroke-width="0.62"/>
<circle cx="142.61" cy="240.48" r="3.75" fill="none" stroke="#ff0000" stroke-width="0.62"/>
<circle cx="150.77" cy="234.81" r="3.75" fill="none" stroke="#ff0000" stroke-width="0.62"/>
<circle cx="158.92" cy="227.90" r="3.75" fill="none" stroke="#ff0000" stroke-width="0.62"/>
<circle cx="167.08" cy="220.50" r="3.75" fill="none" stroke="#ff0000" stroke-width="0.62"/>
<circle cx="175.24" cy="209.41" r="3.75" fill="none" stroke="#ff0000" stroke-width="0.62"/>
<circle cx="183.40" cy="193.75" r="3.75" fill="none" stroke="#ff0000" stroke-width="0.62"/>
<circle cx="191.56" cy="175.60" r="3.75" fill="none" stroke="#ff0000" stroke-width="0.62"/>
<circle cx="199.72" cy="154.95" r="3.75" fill="none" stroke="#ff0000" stroke-width="0.62"/>
<circle cx="207.87" cy="132.60" r="3.75" fill="none" stroke="#ff0000" stroke-width="0.62"/>
<circle cx="216.03" cy="114.49" r="3.75" fill="none" stroke="#ff0000" stroke-width="0.62"/>
<circle cx="224.19" cy="98.31" r="3.75" fill="none" stroke="#ff0000" stroke-width="0.62"/>
<circle cx="232.35" cy="85.00" r="3.75" fill="none" stroke="#ff0000" stroke-width="0.62"/>
<circle cx="240.51" cy="75.15" r="3.75" fill="none" stroke="#ff0000" stroke-width="0.62"/>
<circle cx="248.67" cy="68.70" r="3.75" fill="none" stroke="#ff0000" stroke-width="0.62"/>
<circle cx="256.82" cy="62.29" r="3.75" fill="none" stroke="#ff0000" stroke-width="0.62"/>
<circle cx="264.98" cy="57.42" r="3.75" fill="none" stroke="#ff0000" stroke-width="0.62"/>
<circle cx="273.14" cy="53.03" r="3.75" fill="none" stroke="#ff0000" stroke-width="0.62"/>
<circle cx="281.30" cy="49.59" r="3.75" fill="none" stroke="#ff0000" stroke-width="0.62"/>
<circle cx="289.46" cy="47.22" r="3.75" fill="none" stroke="#ff0000" stroke-width="0.62"/>
<circle cx="297.62" cy="45.32" r="3.75" fill="none" stroke="#ff0000" stroke-width="0.62"/>
<circle cx="305.77" cy="43.42" r="3.75" fill="none" stroke="#ff0000" stroke-width="0.62"/>
<circle cx="313.93" cy="41.95" r="3.75" fill="none" stroke="#ff0000" stroke-width="0.62"/>
<circle cx="322.09" cy="40.58" r="3.75" fill="none" stroke="#ff0000" stroke-width="0.62"/>
<circle cx="330.25" cy="39.27" r="3.75" fill="none" stroke="#ff0000" stroke-width="0.62"/>
<circle cx="338.41" cy="38.20" r="3.75" fill="none" stroke="#ff0000" stroke-width="0.62"/>
<circle cx="346.57" cy="36.82" r="3.75" fill="none" stroke="#ff0000" stroke-width="0.62"/>
<circle cx="354.72" cy="35.77" r="3.75" fill="none" stroke="#ff0000" stroke-width="0.62"/>
<circle cx="362.88" cy="35.00" r="3.75" fill="none" stroke="#ff0000" stroke-width="0.62"/>
<circle cx="371.04" cy="34.26" r="3.75" fill="none" stroke="#ff0000" stroke-width="0.62"/>
<circle cx="379.20" cy="33.57" r="3.75" fill="none" stroke="#ff0000" stroke-width="0.62"/>
<circle cx="387.36" cy="32.94" r="3.75" fill="none" stroke="#ff0000" stroke-width="0.62"/>
<circle cx="395.51" cy="32.38" r="3.75" fill="none" stroke="#ff0000" stroke-width="0.62"/>
<circle cx="403.67" cy="31.87" r="3.75" fill="none" stroke="#ff0000" stroke-width="0.62"/>
<circle cx="411.83" cy="31.41" r="3.75" fill="none" stroke="#ff0000" stroke-width="0.62"/>
<circle cx="419.99" cy="30.96" r="3.75" fill="none" stroke="#ff0000" stroke-width="0.62"/>
<circle cx="428.15" cy="30.54" r="3.75" fill="none" stroke="#ff0000" stroke-width="0.62"/>
<circle cx="436.31" cy="30.15" r="3.75" fill="none" stroke="#ff0000" stroke-width="0.62"/>
<circle cx="444.46" cy="29.83" r="3.75" fill="none" stroke="#ff0000" stroke-width="0.62"/>
<circle cx="452.62" cy="29.57" r="3.75" fill="none" stroke="#ff0000" stroke-width="0.62"/>
<circle cx="460.78" cy="29.32" r="3.75" fill="none" stroke="#ff0000" stroke-width="0.62"/>
<circle cx="468.94" cy="29.10" r="3.75" fill="none" stroke="#ff0000" stroke-width="0.62"/>
</g>
<!-- frame -->
<g stroke="#000" stroke-linecap="square">
<line x1="85.55" y1="19.45" x2="85.55" y2="256.9" stroke-width="2.5"/>
<line x1="469.95" y1="19.45" x2="469.95" y2="256.9" stroke-width="2.15"/>
<line x1="85.55" y1="19.45" x2="469.95" y2="19.45" stroke-width="2.5"/>
<line x1="85.55" y1="256.9" x2="469.95" y2="256.9" stroke-width="2.15"/>
</g>
<line x1="111.18" y1="256.90" x2="111.18" y2="251.10" stroke="#000" stroke-width="1.7"/>
<line x1="111.18" y1="19.45" x2="111.18" y2="25.25" stroke="#000" stroke-width="1.7"/>
<line x1="136.80" y1="256.90" x2="136.80" y2="251.10" stroke="#000" stroke-width="1.7"/>
<line x1="136.80" y1="19.45" x2="136.80" y2="25.25" stroke="#000" stroke-width="1.7"/>
<line x1="162.43" y1="256.90" x2="162.43" y2="251.10" stroke="#000" stroke-width="1.7"/>
<line x1="162.43" y1="19.45" x2="162.43" y2="25.25" stroke="#000" stroke-width="1.7"/>
<line x1="188.06" y1="256.90" x2="188.06" y2="251.10" stroke="#000" stroke-width="1.7"/>
<line x1="188.06" y1="19.45" x2="188.06" y2="25.25" stroke="#000" stroke-width="1.7"/>
<line x1="213.68" y1="256.90" x2="213.68" y2="245.60" stroke="#000" stroke-width="2.2"/>
<line x1="213.68" y1="19.45" x2="213.68" y2="30.75" stroke="#000" stroke-width="2.2"/>
<line x1="239.31" y1="256.90" x2="239.31" y2="251.10" stroke="#000" stroke-width="1.7"/>
<line x1="239.31" y1="19.45" x2="239.31" y2="25.25" stroke="#000" stroke-width="1.7"/>
<line x1="264.94" y1="256.90" x2="264.94" y2="251.10" stroke="#000" stroke-width="1.7"/>
<line x1="264.94" y1="19.45" x2="264.94" y2="25.25" stroke="#000" stroke-width="1.7"/>
<line x1="290.56" y1="256.90" x2="290.56" y2="251.10" stroke="#000" stroke-width="1.7"/>
<line x1="290.56" y1="19.45" x2="290.56" y2="25.25" stroke="#000" stroke-width="1.7"/>
<line x1="316.19" y1="256.90" x2="316.19" y2="251.10" stroke="#000" stroke-width="1.7"/>
<line x1="316.19" y1="19.45" x2="316.19" y2="25.25" stroke="#000" stroke-width="1.7"/>
<line x1="341.82" y1="256.90" x2="341.82" y2="245.60" stroke="#000" stroke-width="2.2"/>
<line x1="341.82" y1="19.45" x2="341.82" y2="25.25" stroke="#000" stroke-width="1.7"/>
<line x1="367.44" y1="256.90" x2="367.44" y2="251.10" stroke="#000" stroke-width="1.7"/>
<line x1="367.44" y1="19.45" x2="367.44" y2="25.25" stroke="#000" stroke-width="1.7"/>
<line x1="393.07" y1="256.90" x2="393.07" y2="251.10" stroke="#000" stroke-width="1.7"/>
<line x1="393.07" y1="19.45" x2="393.07" y2="25.25" stroke="#000" stroke-width="1.7"/>
<line x1="418.70" y1="256.90" x2="418.70" y2="251.10" stroke="#000" stroke-width="1.7"/>
<line x1="418.70" y1="19.45" x2="418.70" y2="25.25" stroke="#000" stroke-width="1.7"/>
<line x1="444.32" y1="256.90" x2="444.32" y2="251.10" stroke="#000" stroke-width="1.7"/>
<line x1="444.32" y1="19.45" x2="444.32" y2="25.25" stroke="#000" stroke-width="1.7"/>
<line x1="85.55" y1="233.15" x2="91.35" y2="233.15" stroke="#000" stroke-width="1.7"/>
<line x1="469.95" y1="233.15" x2="464.15" y2="233.15" stroke="#000" stroke-width="1.7"/>
<line x1="85.55" y1="209.41" x2="91.35" y2="209.41" stroke="#000" stroke-width="1.7"/>
<line x1="469.95" y1="209.41" x2="464.15" y2="209.41" stroke="#000" stroke-width="1.7"/>
<line x1="85.55" y1="185.66" x2="91.35" y2="185.66" stroke="#000" stroke-width="1.7"/>
<line x1="469.95" y1="185.66" x2="464.15" y2="185.66" stroke="#000" stroke-width="1.7"/>
<line x1="85.55" y1="161.92" x2="91.35" y2="161.92" stroke="#000" stroke-width="1.7"/>
<line x1="469.95" y1="161.92" x2="464.15" y2="161.92" stroke="#000" stroke-width="1.7"/>
<line x1="85.55" y1="138.17" x2="96.85" y2="138.17" stroke="#000" stroke-width="2.2"/>
<line x1="469.95" y1="138.17" x2="458.65" y2="138.17" stroke="#000" stroke-width="2.2"/>
<line x1="85.55" y1="114.43" x2="91.35" y2="114.43" stroke="#000" stroke-width="1.7"/>
<line x1="469.95" y1="114.43" x2="464.15" y2="114.43" stroke="#000" stroke-width="1.7"/>
<line x1="85.55" y1="90.68" x2="91.35" y2="90.68" stroke="#000" stroke-width="1.7"/>
<line x1="469.95" y1="90.68" x2="464.15" y2="90.68" stroke="#000" stroke-width="1.7"/>
<line x1="85.55" y1="66.94" x2="91.35" y2="66.94" stroke="#000" stroke-width="1.7"/>
<line x1="469.95" y1="66.94" x2="464.15" y2="66.94" stroke="#000" stroke-width="1.7"/>
<line x1="85.55" y1="43.19" x2="91.35" y2="43.19" stroke="#000" stroke-width="1.7"/>
<line x1="469.95" y1="43.19" x2="464.15" y2="43.19" stroke="#000" stroke-width="1.7"/>
<g class="b" font-size="23.4" text-anchor="middle">
<text x="85.7" y="282.8">0</text>
<text x="213.5" y="282.8">0.5</text>
</g>
<path transform="translate(335.20,282.80) scale(0.02340,-0.02340)" d="M393 0L256 0L256 517Q181 447 79 413L79 538Q133 555 196 604Q259 654 282 720L393 720Z" fill="#000" stroke="#000" stroke-width="0.45" vector-effect="non-scaling-stroke"/>
<path transform="translate(453.30,282.80) scale(0.02340,-0.02340)" d="M393 0L256 0L256 517Q181 447 79 413L79 538Q133 555 196 604Q259 654 282 720L393 720Z" fill="#000" stroke="#000" stroke-width="0.45" vector-effect="non-scaling-stroke"/>
<text x="466.7" y="282.8" font-size="23.4" class="b">.5</text>
<g class="b" font-size="23.4" text-anchor="end">
<text x="82.2" y="265.2">0</text>
<text x="81.4" y="146.6">0.5</text>
</g>
<path transform="translate(68.70,27.20) scale(0.02340,-0.02340)" d="M393 0L256 0L256 517Q181 447 79 413L79 538Q133 555 196 604Q259 654 282 720L393 720Z" fill="#000" stroke="#000" stroke-width="0.45" vector-effect="non-scaling-stroke"/>
<text transform="translate(245.56,323.60) scale(0.955,1)" font-size="32.40" class="b i">E</text>
<text transform="translate(265.42,328.50) scale(0.940,1)" font-size="22.60" class="b i">A</text>
<line x1="282.90" y1="323.70" x2="289.80" y2="300.00" stroke="#000" stroke-width="2.70"/>
<text x="290.73" y="323.60" font-size="31.20" class="b">U</text>
<text x="118.04" y="51.50" font-size="29.00" stroke="#000" stroke-width="0.25">(</text>
<text transform="translate(128.50,50.90) scale(1.020,1)" font-size="27.20" class="b">b</text>
<text x="145.18" y="51.50" font-size="29.00" stroke="#000" stroke-width="0.25">)</text>
<text x="101.20" y="86.55" font-size="24.30" stroke="#000" stroke-width="0.25">Θ</text>
<text x="126.73" y="86.55" font-size="24.30" stroke="#000" stroke-width="0.45">=</text>
<path transform="translate(150.30,86.30) scale(1.000)" d="M0.7,-10.3 Q1.5,-11.2 2.9,-11.2 L16.7,-11.2 M5.7,-11.0 C5.1,-6.3 3.9,-1.8 2.0,-0.6 Q1.0,0 0.1,-0.45 M12.2,-11.0 C11.6,-7.3 10.9,-3.3 11.3,-1.6 Q11.8,0.1 13.9,-0.5" fill="none" stroke="#000" stroke-width="1.55" stroke-linecap="butt" stroke-linejoin="round"/>
<line x1="167.75" y1="87.60" x2="173.00" y2="69.10" stroke="#000" stroke-width="1.75"/>
<text x="175.02" y="86.55" font-size="23.80" class="b">2</text>
<text x="380.60" y="109.55" font-size="21.60" class="b" style="stroke-width:0.1px">U</text>
<line x1="395.50" y1="110.20" x2="401.60" y2="93.80" stroke="#000" stroke-width="1.60"/>
<text x="402.24" y="109.65" font-size="22.60" stroke="#000" stroke-width="0.2">(</text>
<path transform="translate(411.30,109.45) scale(0.870)" d="M0.7,-10.3 Q1.5,-11.2 2.9,-11.2 L16.7,-11.2 M5.7,-11.0 C5.1,-6.3 3.9,-1.8 2.0,-0.6 Q1.0,0 0.1,-0.45 M12.2,-11.0 C11.6,-7.3 10.9,-3.3 11.3,-1.6 Q11.8,0.1 13.9,-0.5" fill="none" stroke="#000" stroke-width="1.72" stroke-linecap="butt" stroke-linejoin="round"/>
<text x="423.92" y="109.50" font-size="21.60" stroke="#000" stroke-width="0.3">Γ</text>
<text x="437.84" y="112.60" font-size="15.00" class="b i" style="stroke-width:0.2px">N</text>
<text x="450.18" y="109.65" font-size="22.60" stroke="#000" stroke-width="0.2">)</text>
<path transform="translate(422.52,141.90) scale(0.01700,-0.01700)" d="M393 0L256 0L256 517Q181 447 79 413L79 538Q133 555 196 604Q259 654 282 720L393 720Z" fill="#000" stroke="#000" stroke-width="0.35" vector-effect="non-scaling-stroke"/>
<g class="b" font-size="17" style="stroke-width:0.35px">
<text x="421.8" y="173.6">2</text>
<text x="421.8" y="206.2">3</text>
<text x="421.8" y="238.0">5</text>
</g>
<circle cx="401.9" cy="136.0" r="3.95" fill="#0000ff"/>
<path d="M397.05,170.5 L402.05,165.5 L407.05,170.5 L402.05,175.5 Z" fill="none" stroke="#008b00" stroke-width="0.9"/>
<rect x="398.0" y="197.9" width="7.9" height="7.9" fill="#ff7f00"/>
<circle cx="402.0" cy="232.2" r="3.75" fill="none" stroke="#ff0000" stroke-width="0.62"/>
<!-- y label (drawn in screen coordinates) -->
<g id="ylabel">
<line x1="10.5" y1="239.4" x2="36.8" y2="239.4" stroke="#000" stroke-width="2.5"/>
<line x1="10.5" y1="38.0" x2="36.8" y2="38.0" stroke="#000" stroke-width="2.5"/>
<path d="M8.0,220.3 L22.3,227.8 L36.8,220.2" fill="none" stroke="#000" stroke-width="1.85"/>
<path d="M8.0,56.9 L22.2,49.1 L36.8,56.9" fill="none" stroke="#000" stroke-width="1.85"/>
<text transform="translate(30.70,216.85) rotate(-90) scale(1,0.978)" font-size="31.0" class="b i" stroke="#000" stroke-width="0.5">d</text>
<text transform="translate(30.70,181.50) rotate(-90) scale(1,0.978)" font-size="31.0" class="b i" stroke="#000" stroke-width="0.5">d</text>
<text transform="translate(30.70,127.40) rotate(-90) scale(1,0.978)" font-size="31.0" class="b i" stroke="#000" stroke-width="0.5">d</text>
<text transform="translate(30.70,92.50) rotate(-90) scale(1,0.978)" font-size="31.0" class="b i" stroke="#000" stroke-width="0.5">d</text>
<path d="M38.50,191.60 L22.90,191.60 M28.50,186.80 L22.90,191.60 L28.50,196.40" fill="none" stroke="#000" stroke-width="1.70" stroke-linejoin="miter"/>
<path d="M1.00,191.60 L19.60,191.60 M5.95,186.30 L5.95,196.40" fill="none" stroke="#000" stroke-width="1.80"/>
<path d="M22.20,156.30 L37.70,156.30 M32.10,151.30 L37.70,156.30 L32.10,161.30" fill="none" stroke="#000" stroke-width="1.70" stroke-linejoin="miter"/>
<path d="M1.00,156.20 L19.60,156.20 M5.95,151.00 L5.95,161.10" fill="none" stroke="#000" stroke-width="1.80"/>
<path d="M22.2,130.8 L22.2,145.7 M14.6,138.2 L29.9,138.2" fill="none" stroke="#000" stroke-width="2.2"/>
<path d="M19.75,102.60 L35.80,102.60 M30.20,97.50 L35.80,102.60 L30.20,107.70" fill="none" stroke="#000" stroke-width="1.70" stroke-linejoin="miter"/>
<path d="M36.00,67.00 L20.40,67.00 M26.00,62.10 L20.40,67.00 L26.00,71.90" fill="none" stroke="#000" stroke-width="1.70" stroke-linejoin="miter"/>
</g>
</svg>
</body>
</html>
